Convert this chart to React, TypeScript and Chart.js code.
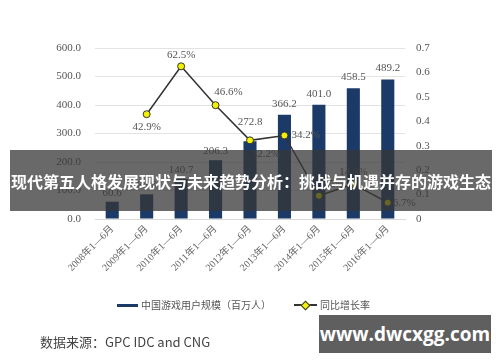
import React, { useEffect, useRef } from "react";
import { Chart, registerables } from "chart.js";

Chart.register(...registerables);

const categories = [
  "2008年1—6月", "2009年1—6月", "2010年1—6月", "2011年1—6月", "2012年1—6月",
  "2013年1—6月", "2014年1—6月", "2015年1—6月", "2016年1—6月",
];
const users = [60.6, 86.6, 140.7, 206.3, 272.8, 366.2, 401.0, 458.5, 489.2];
const userLabels = ["60.6", "86.6", "140.7", "206.3", "272.8", "366.2", "401.0", "458.5", "489.2"];
const growth = [null, 0.429, 0.625, 0.466, 0.322, 0.342, 0.095, 0.143, 0.067];
const growthLabels = ["", "42.9%", "62.5%", "46.6%", "32.2%", "34.2%", "9.5%", "14.3%", "6.7%"];
const leftTicks = [0, 100, 200, 300, 400, 500, 600];
const rightTicks = [0, 0.1, 0.2, 0.3, 0.4, 0.5, 0.6, 0.7];
const seriesNames = ["中国游戏用户规模（百万人）", "同比增长率"];
const bannerTitle = "现代第五人格发展现状与未来趋势分析：挑战与机遇并存的游戏生态";
const sourceText = "数据来源：GPC IDC and CNG";
const watermark = "www.dwcxgg.com";

const NAVY = "#1b3a68";
const SERIF = '"Liberation Serif", "Noto Sans CJK SC", serif';

// per-label offsets [dx, dy, align]
const barLabelOffsets: [number, number][] = [
  [0, -9], [0, -9], [0, -9], [0, -9], [0, -19], [0, -11], [0, -11], [0, -11], [0, -11],
];
const lineLabelOffsets: [number, number, CanvasTextAlign][] = [
  [0, 0, "center"], [0, 13, "center"], [0, -11, "center"], [13, -13, "center"],
  [16, 14, "center"], [7, 0, "left"], [14, -12, "center"], [0, -12, "center"], [5, 0, "left"],
];

const labelPlugin = {
  id: "valueLabels",
  afterDraw(chart: any) {
    const ctx = chart.ctx;
    ctx.save();
    ctx.font = "11px " + SERIF;
    ctx.fillStyle = "#555";
    ctx.textBaseline = "middle";
    const barMeta = chart.getDatasetMeta(1);
    barMeta.data.forEach((el: any, i: number) => {
      const [dx, dy] = barLabelOffsets[i];
      ctx.textAlign = "center";
      ctx.fillText(userLabels[i], el.x + dx, el.y + dy);
    });
    const lineMeta = chart.getDatasetMeta(0);
    lineMeta.data.forEach((el: any, i: number) => {
      if (growth[i] === null) return;
      const [dx, dy, al] = lineLabelOffsets[i];
      ctx.textAlign = al;
      ctx.fillText(growthLabels[i], el.x + dx, el.y + dy);
    });
    ctx.restore();
  },
};

export default function App() {
  const ref = useRef<HTMLCanvasElement>(null);
  useEffect(() => {
    document.body.style.margin = "0";
    const chart = new Chart(ref.current!, {
      type: "bar",
      data: {
        labels: categories,
        datasets: [
          {
            type: "line",
            label: seriesNames[1],
            data: growth as any,
            yAxisID: "y1",
            borderColor: "#333",
            borderWidth: 1.5,
            pointBackgroundColor: "#f2f200",
            pointBorderColor: "#333",
            pointBorderWidth: 1,
            pointRadius: 3.5,
            order: 0,
            spanGaps: false,
          } as any,
          {
            type: "bar",
            label: seriesNames[0],
            data: users,
            yAxisID: "y",
            backgroundColor: NAVY,
            categoryPercentage: 1,
            barPercentage: 0.38,
            order: 1,
          },
        ],
      },
      options: {
        animation: false,
        responsive: false,
        layout: { padding: { top: 48, left: 0, right: 0, bottom: 0 } },
        plugins: { legend: { display: false }, tooltip: { enabled: false } },
        scales: {
          x: {
            grid: { display: false, drawTicks: false },
            border: { display: true, color: "#d9d9d9" },
            ticks: {
              maxRotation: 45,
              minRotation: 45,
              padding: 4,
              color: "#666",
              font: { size: 10, family: SERIF },
            },
            afterFit(scale: any) {
              scale.height = 143;
            },
          },
          y: {
            position: "left",
            min: 0,
            max: 600,
            afterBuildTicks(scale: any) {
              scale.ticks = leftTicks.map((v) => ({ value: v }));
            },
            grid: { color: "#e3e3e3", drawTicks: false },
            border: { display: false },
            ticks: {
              padding: 14,
              color: "#555",
              font: { size: 11, family: SERIF },
              callback: (v: any) => Number(v).toFixed(1),
            },
            afterFit(scale: any) {
              scale.width = 95;
            },
          },
          y1: {
            position: "right",
            min: 0,
            max: 0.7,
            afterBuildTicks(scale: any) {
              scale.ticks = rightTicks.map((v) => ({ value: v }));
            },
            grid: { display: false, drawTicks: false },
            border: { display: false },
            ticks: {
              padding: 11,
              color: "#555",
              font: { size: 11, family: SERIF },
              callback: (v: any) => (Number(v) === 0 ? "0" : Number(v).toFixed(1)),
            },
            afterFit(scale: any) {
              scale.width = 95;
            },
          },
        },
      },
      plugins: [labelPlugin],
    } as any);
    return () => chart.destroy();
  }, []);

  const legendText: React.CSSProperties = {
    fontFamily: '"Noto Sans CJK SC", sans-serif',
    fontSize: 10,
    color: "#555",
    lineHeight: "12px",
  };

  return (
    <div style={{ position: "relative", width: 500, height: 362, background: "#fff", overflow: "hidden" }}>
      <canvas ref={ref} width={500} height={362} style={{ position: "absolute", left: 0, top: 0 }} />
      {/* legend */}
      <div style={{ position: "absolute", left: 117, top: 299, display: "flex", alignItems: "center" }}>
        <div style={{ width: 21, height: 3, background: NAVY, marginRight: 3 }} />
        <span style={legendText}>{seriesNames[0]}</span>
        <div style={{ position: "relative", width: 23, height: 12, marginLeft: 23, marginRight: 3 }}>
          <div style={{ position: "absolute", left: 0, top: 5, width: 23, height: 1.5, background: "#333" }} />
          <div
            style={{
              position: "absolute", left: 8, top: 2.5, width: 5, height: 5,
              background: "#f2f200", border: "1px solid #333", transform: "rotate(45deg)",
            }}
          />
        </div>
        <span style={legendText}>{seriesNames[1]}</span>
      </div>
      {/* source */}
      <div
        style={{
          position: "absolute", left: 40, top: 332, fontSize: 13, color: "#444",
          fontFamily: '"Noto Sans CJK SC", sans-serif', lineHeight: "20px", whiteSpace: "nowrap",
        }}
      >
        {sourceText}
      </div>
      {/* banner */}
      <div
        style={{
          position: "absolute", left: 10, top: 150, width: 482, height: 61,
          background: "rgba(55,55,55,0.75)", display: "flex", alignItems: "center", justifyContent: "center",
          color: "#fff", fontWeight: "bold", fontSize: 16, fontFamily: '"Noto Sans CJK SC", sans-serif',
          whiteSpace: "nowrap",
        }}
      >
        {bannerTitle}
      </div>
      {/* watermark */}
      <div
        style={{
          position: "absolute", left: 319, top: 315, width: 172, height: 38, background: "#5f5f5f",
          display: "flex", alignItems: "center", justifyContent: "center", color: "#fff",
          fontWeight: "bold", fontSize: 19, fontFamily: '"Open Sans", sans-serif', whiteSpace: "nowrap",
        }}
      >
        {watermark}
      </div>
    </div>
  );
}
